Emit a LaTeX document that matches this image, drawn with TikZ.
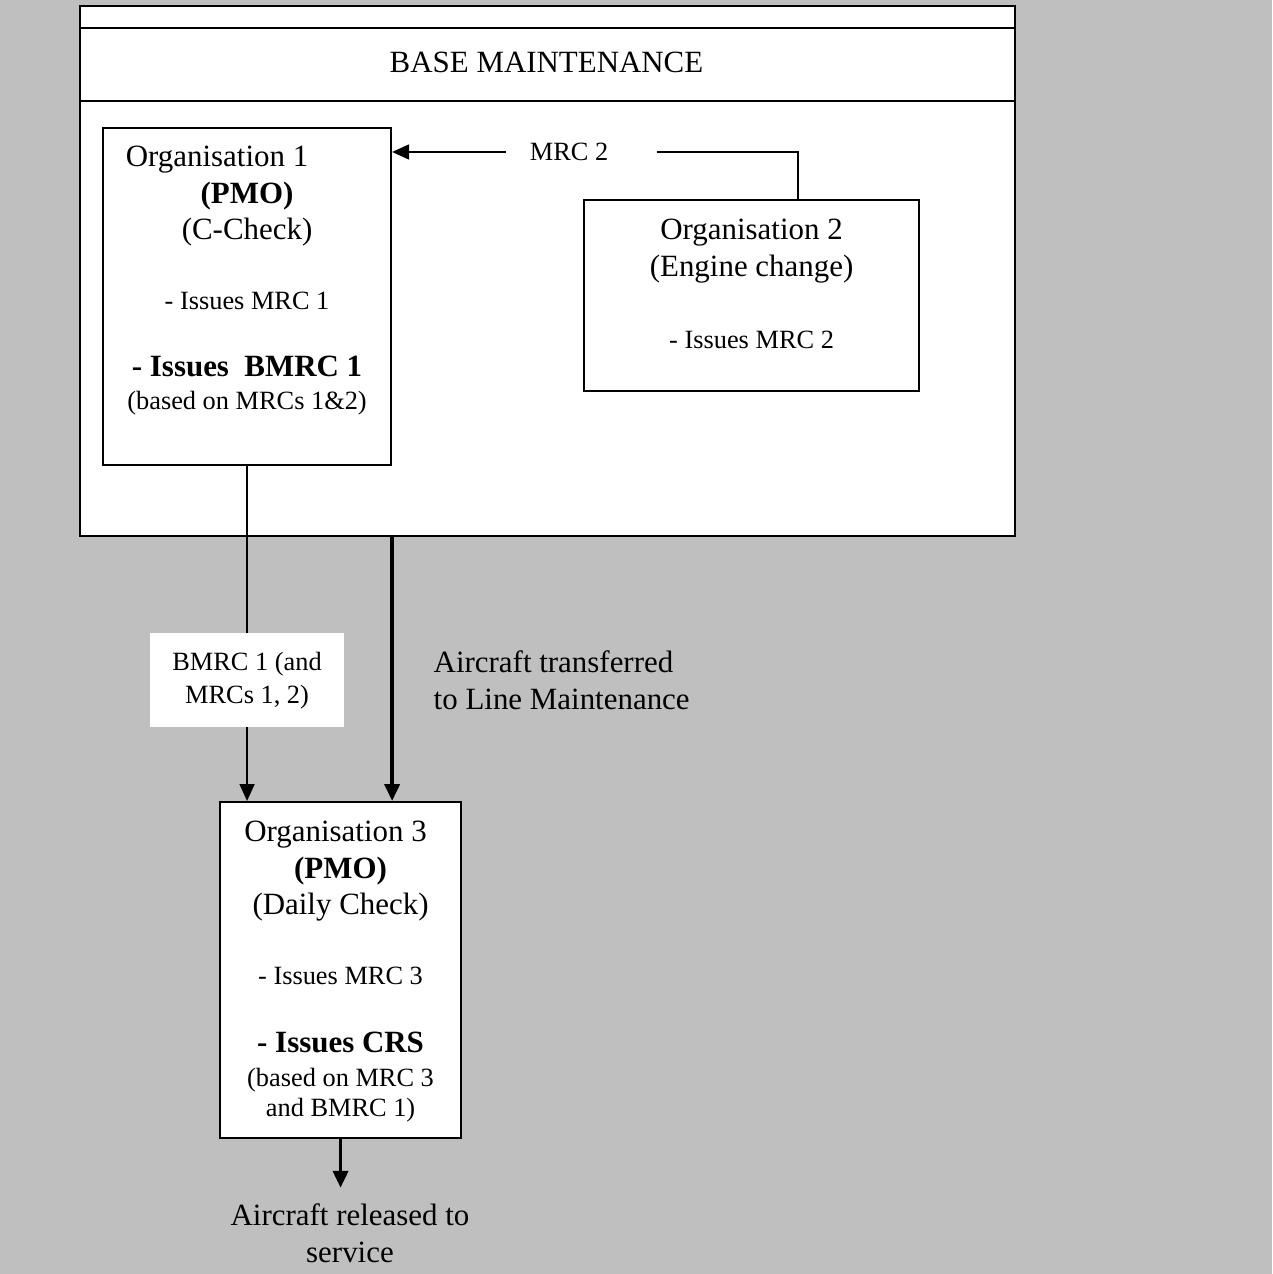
\documentclass[tikz,border=0pt]{standalone}
\usepackage{fontspec}
\setmainfont{Liberation Serif}
\usetikzlibrary{arrows.meta}
\newcommand{\bigf}{\fontsize{8.8}{10.5}\selectfont}
\newcommand{\smf}{\fontsize{7.5}{9.3}\selectfont}
\begin{document}
\begin{tikzpicture}[orgbox/.style={draw,fill=white,line width=0.6pt,inner sep=0pt},
    txt/.style={align=center,inner sep=0pt,font=\bigf},
    tip/.style={-{Triangle[length=0.17cm,width=0.15cm]}}]
    \fill[black!25] (0,0) rectangle (12.72,-12.74);
    \useasboundingbox (0,0) rectangle (12.72,-12.74);
    \node (base) [orgbox,anchor=north west,minimum width=9.35cm,minimum
    height=5.30cm] at (0.79,-0.05) {}; \draw[line width=0.6pt] (base.west
    |- 0,-0.28) -- (base.east |- 0,-0.28) (base.west |- 0,-1.01) --
    (base.east |- 0,-1.01); \node (title) [txt] at (5.465,-0.62) {BASE
      MAINTENANCE};
    \node (org1) [orgbox,anchor=north west,minimum width=2.88cm,minimum
    height=3.37cm] at (1.02,-1.27) {}; \node (org1t) [txt,anchor=north] at
    ([yshift=-0.18cm]org1.north) {Organisation 1\hspace*{0.6cm}\\
      \textbf{(PMO)}\\ (C-Check)\\[0.33cm] {\smf - Issues MRC 1}\\[0.30cm]
      \textbf{- Issues\ \ BMRC 1}\\[-0.04cm] {\smf (based on MRCs 1\&2)}};
    \node (org2) [orgbox,anchor=north west,minimum width=3.35cm,minimum
    height=1.91cm] at (5.83,-1.99) {}; \node (org2t) [txt,anchor=north] at
    ([yshift=-0.19cm]org2.north) {Organisation 2\\ (Engine
      change)\\[0.36cm] {\smf - Issues MRC 2}};
    \node (org3) [orgbox,anchor=north west,minimum width=2.41cm,minimum
    height=3.36cm] at (2.19,-8.01) {}; \node (org3t) [txt,anchor=north] at
    ([yshift=-0.19cm]org3.north) {Organisation 3\hspace*{0.1cm}\\
      \textbf{(PMO)}\\ (Daily Check)\\[0.33cm] {\smf - Issues MRC
        3}\\[0.31cm] \textbf{- Issues CRS}\\[-0.03cm] {\smf (based on MRC
        3}\\[-0.07cm] {\smf and BMRC 1)}};
    \node (mrc) [font=\smf,inner sep=0pt] at (5.69,-1.52) {MRC 2};
    \coordinate (m2) at (7.98,-1.52); \draw[line width=0.5pt]
    ([xshift=0.48cm]mrc.east) -- (m2) -- (m2 |- org2.north);
    \draw[tip,line width=0.5pt] ([xshift=-0.23cm]mrc.west) -- (org1.east
    |- mrc);
    \draw[tip,line width=0.5pt] (org1.south) -- node[pos=0.64,fill=white,
    minimum width=1.94cm,minimum height=0.94cm,align=center,font=\smf]
    (bmrc) {BMRC 1 (and\\ MRCs 1, 2)} (org1.south |- org3.north);
    \draw[tip,line width=1.1pt] (base.south -| org1.east) -- (org3.north
    -| org1.east); \node (xfer) [anchor=west,align=left,font=\bigf,inner
    sep=0pt] at (4.33,-6.80) {Aircraft transferred\\ to Line Maintenance};
    \node (rel) [font=\bigf,align=center,inner sep=0pt] at (3.50,-12.33)
    {Aircraft released to\\ service}; \draw[tip,line width=1.1pt]
    (org3.south) -- ([yshift=0.15cm]rel.north -| org3.south);
  \end{tikzpicture}
\end{document}
